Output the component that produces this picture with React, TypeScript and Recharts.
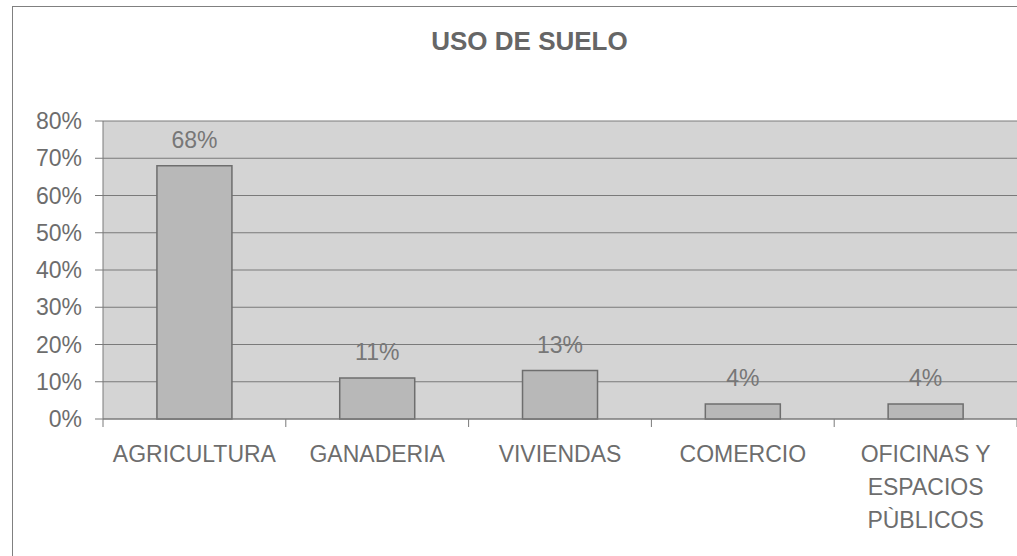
import React from "react";
import { BarChart, Bar, XAxis, YAxis, CartesianGrid, LabelList } from "recharts";

const categories = ["AGRICULTURA", "GANADERIA", "VIVIENDAS", "COMERCIO", "OFICINAS Y ESPACIOS PÙBLICOS"];
const categoryLines = [["AGRICULTURA"], ["GANADERIA"], ["VIVIENDAS"], ["COMERCIO"], ["OFICINAS Y", "ESPACIOS", "PÙBLICOS"]];
const values = [68, 11, 13, 4, 4];
const yTicks = [0, 10, 20, 30, 40, 50, 60, 70, 80];
const title = "USO DE SUELO";

const data = categories.map((c, i) => ({ name: c, value: values[i], lines: categoryLines[i] }));

const W = 1017;
const H = 556;
const PLOT_LEFT = 103;
const PLOT_RIGHT = 0;
const FONT = "'Liberation Sans', Arial, sans-serif";
const TEXT_COLOR = "#6d6d6d";
const halfBand = (W - PLOT_LEFT - PLOT_RIGHT) / categories.length / 2;

const XTick = (props: any) => {
  const { x, y, index } = props;
  const axisY = y - 8 - 4;
  const lines = categoryLines[index] || [];
  return (
    <g>
      <line x1={x - halfBand} y1={axisY} x2={x - halfBand} y2={axisY + 8} stroke="#7a7a7a" />
      {index === categories.length - 1 && (
        <line x1={x + halfBand} y1={axisY} x2={x + halfBand} y2={axisY + 8} stroke="#7a7a7a" />
      )}
      <text x={x} y={462} textAnchor="middle" fill={TEXT_COLOR} style={{ fontSize: 23, fontFamily: FONT }}>
        {lines.map((l, i) => (
          <tspan key={i} x={x} dy={i === 0 ? 0 : 33}>
            {l}
          </tspan>
        ))}
      </text>
    </g>
  );
};

export default function App() {
  return (
    <div style={{ position: "absolute", left: 0, top: 0, width: W, height: H, overflow: "hidden", background: "#fff" }}>
      <div
        style={{
          position: "absolute",
          left: 12,
          top: 6,
          width: W + 20,
          height: H + 20,
          border: "1px solid #808080",
        }}
      />
      <div
        style={{
          position: "absolute",
          left: 0,
          top: 26,
          width: 1059,
          textAlign: "center",
          fontFamily: FONT,
          fontWeight: "bold",
          fontSize: 26,
          color: "#666",
        }}
      >
        {title}
      </div>
      <div style={{ position: "absolute", left: 0, top: 0 }}>
        <BarChart
          width={W}
          height={H}
          data={data}
          margin={{ top: 121, right: PLOT_RIGHT, left: 0, bottom: 0 }}
          barCategoryGap="29.5%"
        >
          <CartesianGrid vertical={false} fill="#d4d4d4" stroke="#7a7a7a" strokeOpacity={1} />
          <YAxis
            width={PLOT_LEFT}
            domain={[0, 80]}
            ticks={yTicks}
            tickFormatter={(v: number) => `${v}%`}
            tickSize={8}
            tickMargin={13}
            interval={0}
            axisLine={{ stroke: "#7a7a7a" }}
            tickLine={{ stroke: "#7a7a7a" }}
            tick={{ fill: TEXT_COLOR, fontSize: 23, fontFamily: FONT }}
          />
          <XAxis
            dataKey="name"
            height={137}
            interval={0}
            tickLine={false}
            tickSize={8}
            tickMargin={4}
            axisLine={{ stroke: "#7a7a7a" }}
            tick={<XTick />}
          />
          <Bar dataKey="value" fill="#b8b8b8" stroke="#6e6e6e" strokeWidth={1.5} isAnimationActive={false}>
            <LabelList
              dataKey="value"
              position="top"
              offset={18}
              formatter={(v: number) => `${v}%`}
              style={{ fill: "#777", fontSize: 23, fontFamily: FONT }}
            />
          </Bar>
        </BarChart>
      </div>
    </div>
  );
}
